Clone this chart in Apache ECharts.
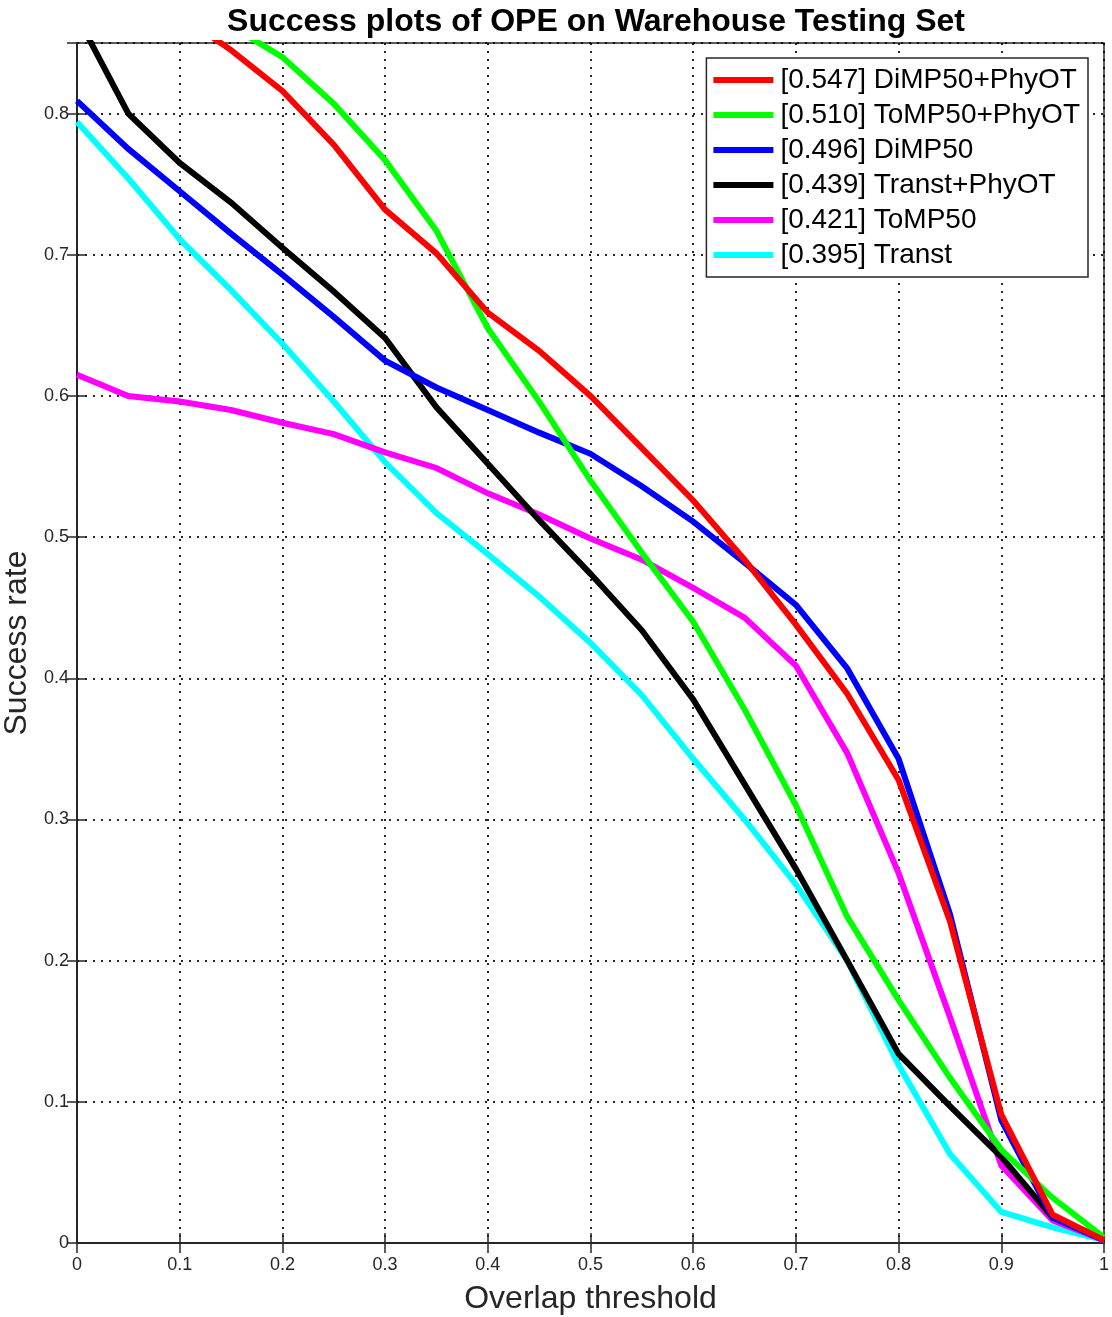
<!DOCTYPE html>
<html>
<head>
  <meta charset="utf-8">
  <title>Success plots of OPE</title>
  <style>
  html, body { margin: 0; padding: 0; background: #fff; }
  #chart { width: 1112px; height: 1317px; }
  </style>
</head>
<body>
  <div id="chart"></div>
  <script src="https://cdn.jsdelivr.net/npm/echarts@6/dist/echarts.min.js"></script>
  <script>
  // overlap thresholds 0:0.05:1
  const thresholds = [0, 0.05, 0.1, 0.15, 0.2, 0.25, 0.3, 0.35, 0.4, 0.45, 0.5,
    0.55, 0.6, 0.65, 0.7, 0.75, 0.8, 0.85, 0.9, 0.95, 1];

  const names = ['[0.547] DiMP50+PhyOT', '[0.510] ToMP50+PhyOT', '[0.496] DiMP50',
    '[0.439] Transt+PhyOT', '[0.421] ToMP50', '[0.395] Transt'];
  const colors = ['#ff0000', '#00ff00', '#0000ff', '#000000', '#ff00ff', '#00ffff'];

  const dimpPhy = [0.91, 0.89, 0.87, 0.845, 0.816, 0.778, 0.732, 0.701, 0.659, 0.632, 0.600,
    0.563, 0.526, 0.484, 0.438, 0.389, 0.328, 0.228, 0.091, 0.020, 0.002];
  const tompPhy = [0.90, 0.89, 0.88, 0.862, 0.840, 0.807, 0.767, 0.717, 0.648, 0.596, 0.540,
    0.489, 0.440, 0.378, 0.310, 0.231, 0.172, 0.117, 0.066, 0.032, 0.004];
  const dimp = [0.809, 0.775, 0.745, 0.715, 0.686, 0.656, 0.625, 0.606, 0.590, 0.574, 0.559,
    0.536, 0.511, 0.482, 0.452, 0.407, 0.343, 0.233, 0.087, 0.018, 0.002];
  const transtPhy = [0.869, 0.800, 0.765, 0.737, 0.705, 0.674, 0.641, 0.592, 0.552, 0.512, 0.474,
    0.434, 0.385, 0.325, 0.265, 0.200, 0.134, 0.097, 0.061, 0.018, 0.003];
  const tomp = [0.615, 0.600, 0.596, 0.590, 0.581, 0.573, 0.560, 0.549, 0.531, 0.516, 0.499,
    0.484, 0.464, 0.443, 0.409, 0.347, 0.262, 0.160, 0.055, 0.016, 0.002];
  const transt = [0.794, 0.754, 0.711, 0.675, 0.637, 0.596, 0.553, 0.517, 0.488, 0.458, 0.425,
    0.388, 0.343, 0.300, 0.254, 0.200, 0.126, 0.063, 0.022, 0.011, 0.002];

  const allValues = [dimpPhy, tompPhy, dimp, transtPhy, tomp, transt];

  const xTicks = ['0', '0.1', '0.2', '0.3', '0.4', '0.5', '0.6', '0.7', '0.8', '0.9', '1'];
  const yTicks = ['0', '0.1', '0.2', '0.3', '0.4', '0.5', '0.6', '0.7', '0.8'];

  const axisColor = '#262626';
  const font = '"Liberation Sans", Arial, Helvetica, sans-serif';

  const gridLine = {
    show: true,
    lineStyle: { color: '#000', type: [2, 6], width: 2, opacity: 0.85 }
  };

  let option = {
    animation: false,
    backgroundColor: '#fff',
    title: {
      text: 'Success plots of OPE on Warehouse Testing Set',
      left: 591,
      top: 1,
      textAlign: 'center',
      textStyle: { fontFamily: font, fontSize: 32, fontWeight: 'bold', color: '#000' }
    },
    legend: {
      orient: 'vertical',
      right: 24,
      top: 58,
      data: names,
      icon: 'rect',
      itemWidth: 60,
      itemHeight: 6,
      itemGap: 7,
      padding: [8, 8, 8, 7],
      backgroundColor: '#fff',
      borderColor: axisColor,
      borderWidth: 1.5,
      borderRadius: 0,
      textStyle: { fontFamily: font, fontSize: 28, color: '#000', padding: [0, 0, 0, 2] }
    },
    grid: {
      left: 77,
      right: 8,
      top: 43,
      bottom: 74,
      outerBoundsMode: 'none',
      containLabel: false,
      show: true,
      borderColor: axisColor,
      borderWidth: 1.5
    },
    xAxis: [{
      type: 'value',
      min: 0,
      max: 1,
      interval: 0.1,
      name: 'Overlap threshold',
      nameLocation: 'middle',
      nameGap: 40,
      nameTextStyle: { fontFamily: font, fontSize: 32, color: axisColor },
      axisLine: { show: true, onZero: false, lineStyle: { color: axisColor, width: 1.5 } },
      axisTick: { show: true, inside: true, length: 10, lineStyle: { color: axisColor, width: 1.5 } },
      axisLabel: {
        fontFamily: font, fontSize: 18, color: axisColor, margin: 13,
        formatter: v => xTicks[Math.round(v * 10)]
      },
      splitLine: gridLine
    }, {
      type: 'value',
      position: 'top',
      min: 0,
      max: 1,
      interval: 0.1,
      axisLine: { show: true, lineStyle: { color: axisColor, width: 1.5 } },
      axisTick: { show: true, inside: true, length: 10, lineStyle: { color: axisColor, width: 1.5 } },
      axisLabel: { show: false },
      splitLine: { show: false }
    }],
    yAxis: [{
      type: 'value',
      min: 0,
      max: 0.85,
      interval: 0.1,
      name: 'Success rate',
      nameLocation: 'middle',
      nameGap: 44,
      nameTextStyle: { fontFamily: font, fontSize: 32, color: axisColor },
      axisLine: { show: true, onZero: false, lineStyle: { color: axisColor, width: 1.5 } },
      axisTick: { show: true, inside: true, length: 10, lineStyle: { color: axisColor, width: 1.5 } },
      axisLabel: {
        fontFamily: font, fontSize: 18, color: axisColor, margin: 8,
        showMaxLabel: false,
        formatter: v => {
          const i = Math.round(v * 10);
          return Math.abs(v * 10 - i) < 1e-6 ? yTicks[i] : '';
        }
      },
      splitLine: gridLine
    }, {
      type: 'value',
      position: 'right',
      min: 0,
      max: 0.85,
      interval: 0.1,
      axisLine: { show: true, lineStyle: { color: axisColor, width: 1.5 } },
      axisTick: { show: true, inside: true, length: 10, lineStyle: { color: axisColor, width: 1.5 } },
      axisLabel: { show: false },
      splitLine: { show: false }
    }],
    series: names.map((name, i) => ({
      name: name,
      type: 'line',
      xAxisIndex: 0,
      yAxisIndex: 0,
      clip: true,
      showSymbol: false,
      symbol: 'none',
      lineStyle: { color: colors[i], width: 6, join: 'miter' },
      itemStyle: { color: colors[i] },
      z: 10 - i,
      data: thresholds.map((t, k) => [t, allValues[i][k]])
    }))
  };

  let myChart = echarts.init(document.getElementById('chart'));
  myChart.setOption(option);
  </script>
</body>
</html>
